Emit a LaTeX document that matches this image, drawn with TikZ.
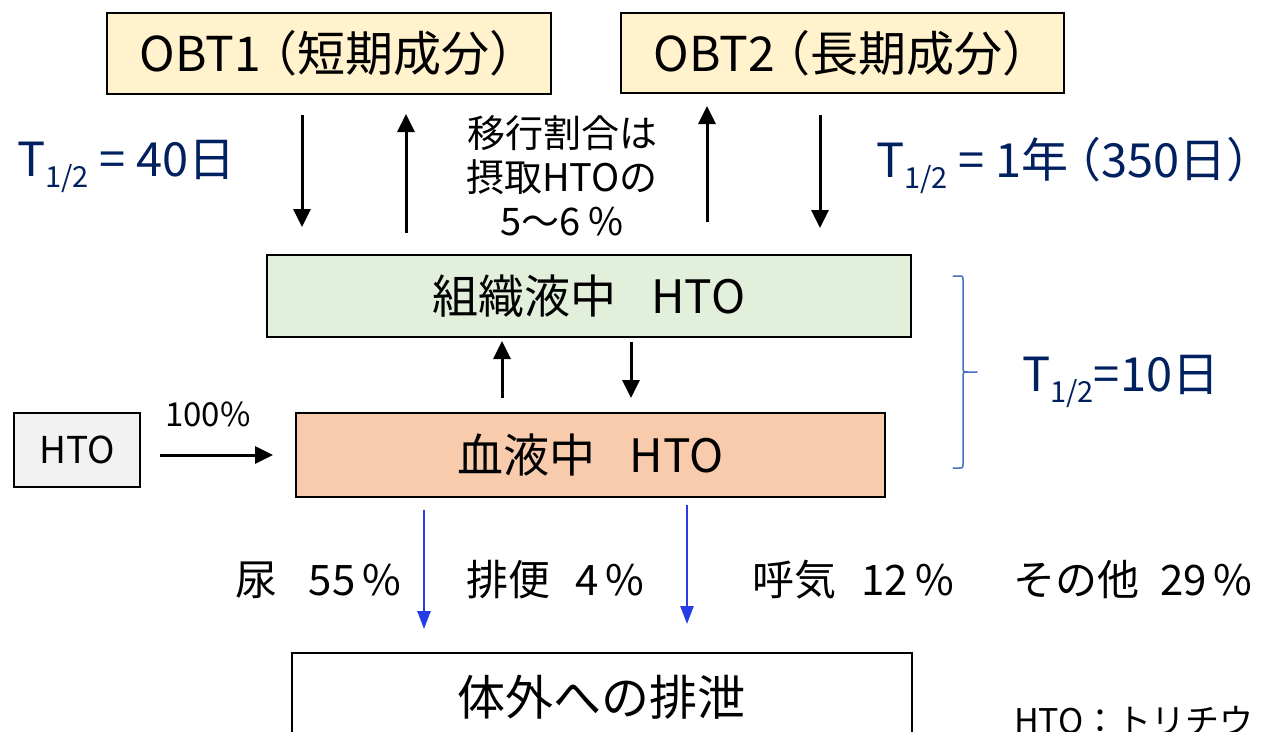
\documentclass[tikz,border=0pt]{standalone}
\usepackage{fontspec}
\setmainfont{Noto Sans CJK JP}
\usetikzlibrary{arrows.meta}
\definecolor{navy}{RGB}{0,32,96}
\definecolor{obtfill}{RGB}{255,242,204}
\definecolor{tisfill}{RGB}{226,239,218}
\definecolor{bldfill}{RGB}{248,203,173}
\definecolor{grayfill}{RGB}{242,242,242}
\definecolor{bracecol}{RGB}{68,114,196}
\definecolor{bluearr}{RGB}{40,60,230}
\newcommand\fs[1]{\fontsize{#1}{#1}\selectfont}
\newcommand\halfsub{\raisebox{-11pt}{\fs{29}1/2}}
\tikzset{
  box/.style={draw=black, line width=2pt, inner sep=0pt, align=center},
  plain/.style={inner sep=0pt, align=center},
  tlabel/.style={inner sep=0pt, text=navy, font=\fs{47}, anchor=base west},
  arr/.style={line width=3pt, -{Triangle[length=18pt,width=17pt]}},
  barr/.style={line width=2.5pt, draw=bluearr, -{Triangle[length=18pt,width=13pt]}, color=bluearr},
  lab/.style={inner sep=0pt, font=\fs{42}, anchor=west}
}
\begin{document}
\begin{tikzpicture}[x=1pt,y=-1pt]
\useasboundingbox (0,0) rectangle (1261,731);
\clip (0,0) rectangle (1261,731);
\fill[white] (0,0) rectangle (1261,731);
% boxes
\node[box, fill=obtfill, minimum width=444pt, minimum height=81pt, font=\fs{48}] (obt1) at (329,53.5) {OBT1\hspace{-0.25em}（短期成分）\hspace{-0.4em}};
\node[box, fill=obtfill, minimum width=443pt, minimum height=80pt, font=\fs{48}] (obt2) at (842.5,53) {OBT2\hspace{-0.25em}（長期成分）\hspace{-0.4em}};
\node[box, fill=tisfill, minimum width=644pt, minimum height=82pt, font=\fs{46}] (tis) at (589,296) {組織液中\hspace{0.75em}HTO};
\node[box, fill=bldfill, minimum width=589pt, minimum height=84pt, font=\fs{46}] (bld) at (590.5,455) {血液中\hspace{0.75em}HTO};
\node[box, fill=grayfill, minimum width=126pt, minimum height=74pt, font=\fs{37}] (hto) at (77,450) {HTO};
\node[box, fill=white, minimum width=620pt, minimum height=140pt, anchor=north west] (exc) at (291,652) {};
\node[plain, font=\fs{48}] (exct) at (601,697) {体外への排泄};
% text labels
\node[plain, font=\fs{38}] (mid) at (562,176) {\fs{38}移行割合は\\[6pt]摂取HTOの\\[6pt]5〜6 \%};
\node[tlabel] (t40) at (17,176) {T\halfsub\ = 40日};
\node[tlabel] (t350) at (876,177) {T\halfsub\ = 1年\hspace{-0.3em}（350日）\hspace{-0.5em}};
\node[tlabel] (t10) at (1022,391) {T\halfsub=10日};
\node[plain, font=\fs{33}, anchor=base] (p100) at (208,426) {100\%};
\node[lab] (urine) at (235,580) {尿\hspace{0.75em}55\,\%};
\node[lab] (feces) at (466,580) {排便\hspace{0.6em}4\,\%};
\node[lab] (breath) at (752,580) {呼気\hspace{0.6em}12\,\%};
\node[lab] (other) at (1013,580) {その他\hspace{0.5em}29\,\%};
\node[inner sep=0pt, font=\fs{34}, anchor=base west] (note) at (1014,733) {HTO：トリチウ};
% arrow end points
\coordinate (a1s) at (302,115); \coordinate (a1e) at (302,227);
\coordinate (a2s) at (406,233); \coordinate (a2e) at (406,114);
\coordinate (a3s) at (707,222); \coordinate (a3e) at (707,106);
\coordinate (a4s) at (820,115); \coordinate (a4e) at (820,228);
\coordinate (a5s) at (502,398); \coordinate (a5e) at (502,341);
\coordinate (a6s) at (631,342); \coordinate (a6e) at (631,398);
\coordinate (a7s) at (160,455); \coordinate (a7e) at (273,455);
\coordinate (b1s) at (424,510); \coordinate (b1e) at (424,629);
\coordinate (b2s) at (687,505); \coordinate (b2e) at (687,624);
\draw[arr] (a1s) -- (a1e);
\draw[arr] (a2s) -- (a2e);
\draw[arr] (a3s) -- (a3e);
\draw[arr] (a4s) -- (a4e);
\draw[arr] (a5s) -- (a5e);
\draw[arr] (a6s) -- (a6e);
\draw[arr] (a7s) -- (a7e);
\draw[barr] (b1s) -- (b1e);
\draw[barr] (b2s) -- (b2e);
% brace
\coordinate (brt) at (953,276);
\coordinate (brtip) at (977,372);
\coordinate (brb) at (953,468);
\draw[bracecol, line width=1.5pt, line cap=round]
  (brt) -- (959,276) .. controls (963,276) .. (963,280) -- (963,367)
  .. controls (963,372) .. (968,372) -- (brtip);
\draw[bracecol, line width=1.5pt, line cap=round]
  (968,372) .. controls (963,372) .. (963,377) -- (963,464)
  .. controls (963,468) .. (959,468) -- (brb);
\end{tikzpicture}
\end{document}
